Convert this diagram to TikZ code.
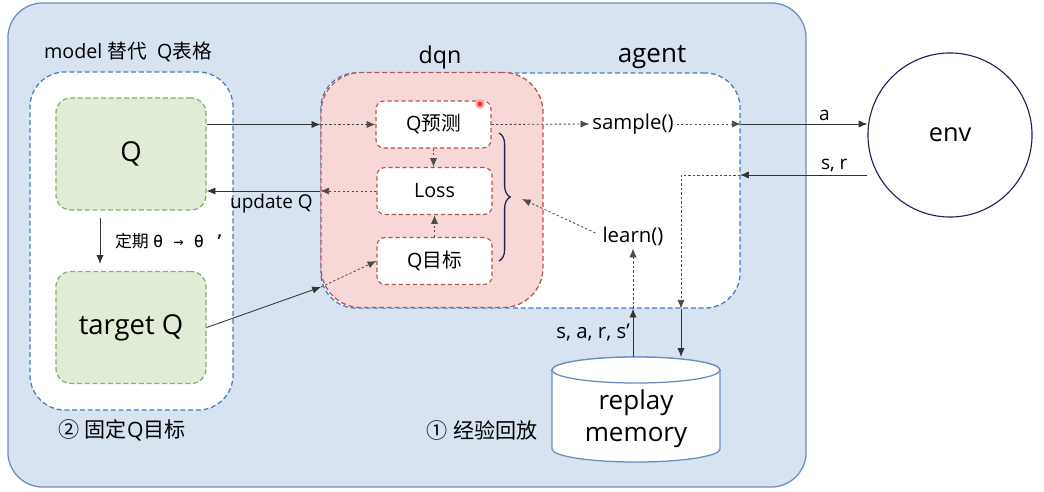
\documentclass[tikz,border=0pt]{standalone}
\usepackage{fontspec}
\setmainfont{Open Sans}
\newfontfamily\cjk{Noto Sans CJK SC}
\newfontfamily\monof{DejaVu Sans Mono}
\usetikzlibrary{positioning,arrows.meta,calc,decorations.pathreplacing}
\definecolor{bgblue}{RGB}{215,227,241}
\definecolor{lnblue}{RGB}{108,142,191}
\definecolor{dsblue}{RGB}{70,125,190}
\definecolor{qgreen}{RGB}{225,236,215}
\definecolor{lngreen}{RGB}{130,179,102}
\definecolor{qpink}{RGB}{248,215,215}
\definecolor{lnred}{RGB}{184,84,80}
\definecolor{navy}{RGB}{30,35,80}
\tikzset{
  frame/.style={draw=lnblue,fill=bgblue,line width=0.9pt,rounded corners=0.875cm,
    minimum width=19.95cm,minimum height=12.1cm},
  grp/.style={draw=dsblue,fill=white,line width=0.9pt,dash pattern=on 3.5pt off 2pt,
    rounded corners=0.875cm},
  dqnbox/.style={draw=lnred,fill=qpink,line width=0.9pt,dash pattern=on 3.5pt off 2pt,
    rounded corners=1cm,minimum width=5.55cm,minimum height=5.875cm},
  netbox/.style={draw=lngreen,fill=qgreen,line width=0.9pt,dash pattern=on 3.5pt off 2pt,
    rounded corners=0.375cm,minimum width=3.75cm,minimum height=2.8cm,
    font=\fontsize{19.5}{23}\selectfont},
  subbox/.style={draw=lnred,fill=white,line width=0.8pt,dash pattern=on 3pt off 2pt,
    rounded corners=0.2cm,minimum width=2.875cm,minimum height=1.175cm,
    font=\fontsize{14}{17}\selectfont},
  fn/.style={font=\fontsize{14.5}{17}\selectfont,inner sep=2pt},
  ttl/.style={inner sep=1pt},
  elbl/.style={font=\fontsize{13.5}{16}\selectfont,inner sep=2pt,text=black},
  arr/.style={-{Latex[length=2.2mm,width=1.8mm]},line width=0.6pt,black!80},
  dotarr/.style={-{Latex[length=2.2mm,width=1.8mm]},line width=0.6pt,black!70,
    dash pattern=on 1.6pt off 1.6pt},
  brc/.style={decorate,decoration={brace,amplitude=8pt},line width=0.9pt,navy},
  cyl/.style={draw=lnblue,fill=white,line width=0.9pt},
  envc/.style={circle,draw=navy,fill=white,line width=0.8pt,minimum size=4.1cm,
    font=\fontsize{18}{21}\selectfont},
}

\begin{document}
\begin{tikzpicture}[x=0.025cm,y=-0.025cm]
  \useasboundingbox (0,0) rectangle (1044,492);
  % big frame and groups
  \node[frame] (outer) at (407,245) {};
  \node[grp,minimum width=5.075cm,minimum height=8.45cm] (model) at (131.5,241) {};
  \node[netbox] (qnet) at (131,154) {Q};
  \node[netbox] (tgtnet) at (131,327.5) {target Q};
  \node[grp,minimum width=10.475cm,minimum height=5.875cm] (agent) at (530.5,190.5) {};
  \node[dqnbox] (dqn) at (432,190) {};
  \node[subbox] (qpred) at (433.5,124.5) {Q{\cjk 预测}};
  \node[subbox] (loss) at (434.5,191) {Loss};
  \node[subbox] (qtgt) at (434.5,261) {Q{\cjk 目标}};
  \fill[red!35] (480,104) circle[radius=0.12cm];
  \fill[red!85] (480,104) circle[radius=0.06cm];
  \node[fn] (sample) at (633,124) {sample()};
  \node[fn] (learn) at (633,236) {learn()};
  \node[envc] (env) at (950,135) {env};
  % replay memory drum
  \filldraw[cyl] (552,370) -- (552,449)
    arc[start angle=180,end angle=360,x radius=2.1cm,y radius=0.325cm] -- (720,370)
    arc[start angle=0,end angle=180,x radius=2.1cm,y radius=0.325cm] -- cycle;
  \draw[cyl] (636,370) ellipse[x radius=2.1cm,y radius=0.325cm];
  \node[font=\fontsize{18.5}{23}\selectfont,align=center] (memory) at (636,419) {replay\\memory};
  \coordinate (memtop) at (636,357);
  % titles
  \node[ttl,font=\fontsize{14}{17}\selectfont] (mtitle) at (128,52) {model {\cjk 替代}\ \ Q{\cjk 表格}};
  \node[ttl,font=\fontsize{16.5}{19}\selectfont] (dtitle) at (440,57) {dqn};
  \node[ttl,font=\fontsize{18.5}{21}\selectfont] (atitle) at (652,57) {agent};
  \node[ttl,font=\fontsize{15}{17}\selectfont] (fixq) at (122,430) {{\cjk ②}\ {\cjk 固定}Q{\cjk 目标}};
  \node[ttl,font=\fontsize{15}{17}\selectfont] (replay) at (482,430) {{\cjk ①}\ {\cjk 经验回放}};
  % Q net <-> dqn
  \draw[arr] (qnet.east |- qpred) -- (dqn.west |- qpred);
  \draw[dotarr] (dqn.west |- qpred) -- (qpred.west);
  \draw[dotarr] (loss.west) -- (dqn.west |- loss);
  \draw[arr] (dqn.west |- loss) -- node[elbl,below,pos=0.43] (upd) {update Q} (qnet.east |- loss);
  \draw[arr,shorten <=0.175cm,shorten >=0.175cm] ([xshift=-0.775cm]qnet.south)
    -- node[right,xshift=0.25cm,text=black,font=\fontsize{12}{14}\selectfont] (sync)
       {{\cjk 定期}\ {\monof θ → θ ’}} ([xshift=-0.775cm]tgtnet.north);
  \coordinate (tin) at (321,287);
  \draw[arr] (tgtnet.east) -- (tin);
  \draw[dotarr] (tin) -- (qtgt.west);
  % inside dqn
  \draw[dotarr] (qpred.south) -- (qpred.south |- loss.north);
  \draw[dotarr] (qtgt.north) -- (loss.south);
  \draw[brc] (499,133) -- (499,261);
  \coordinate (bt) at (522,199);
  \draw[dotarr] ($(learn.west)+(-4,-3)$) -- (bt);
  % agent <-> env
  \draw[dotarr] (qpred.east) -- (sample.west);
  \draw[dotarr] (sample.east) -- (agent.east |- sample);
  \draw[arr] (agent.east |- sample) -- node[elbl,above,pos=0.66] (alb) {a} (env.west |- sample);
  \coordinate (srin) at (740,175);
  \coordinate (srturn) at (681,175);
  \draw[arr] (env.west |- srin) -- node[elbl,above,pos=0.26] (srlb) {s, r} (srin);
  \draw[dotarr] (srin) -- (srturn) -- (srturn |- agent.south);
  \draw[arr] (srturn |- agent.south) -- (srturn |- memtop);
  % memory -> learn
  \draw[arr] (learn |- memtop) -- node[elbl,left,font=\fontsize{14.5}{17}\selectfont] (tuple) {s, a, r, s’} (learn |- agent.south);
  \draw[dotarr] (learn |- agent.south) -- (learn.south);
\end{tikzpicture}
\end{document}
